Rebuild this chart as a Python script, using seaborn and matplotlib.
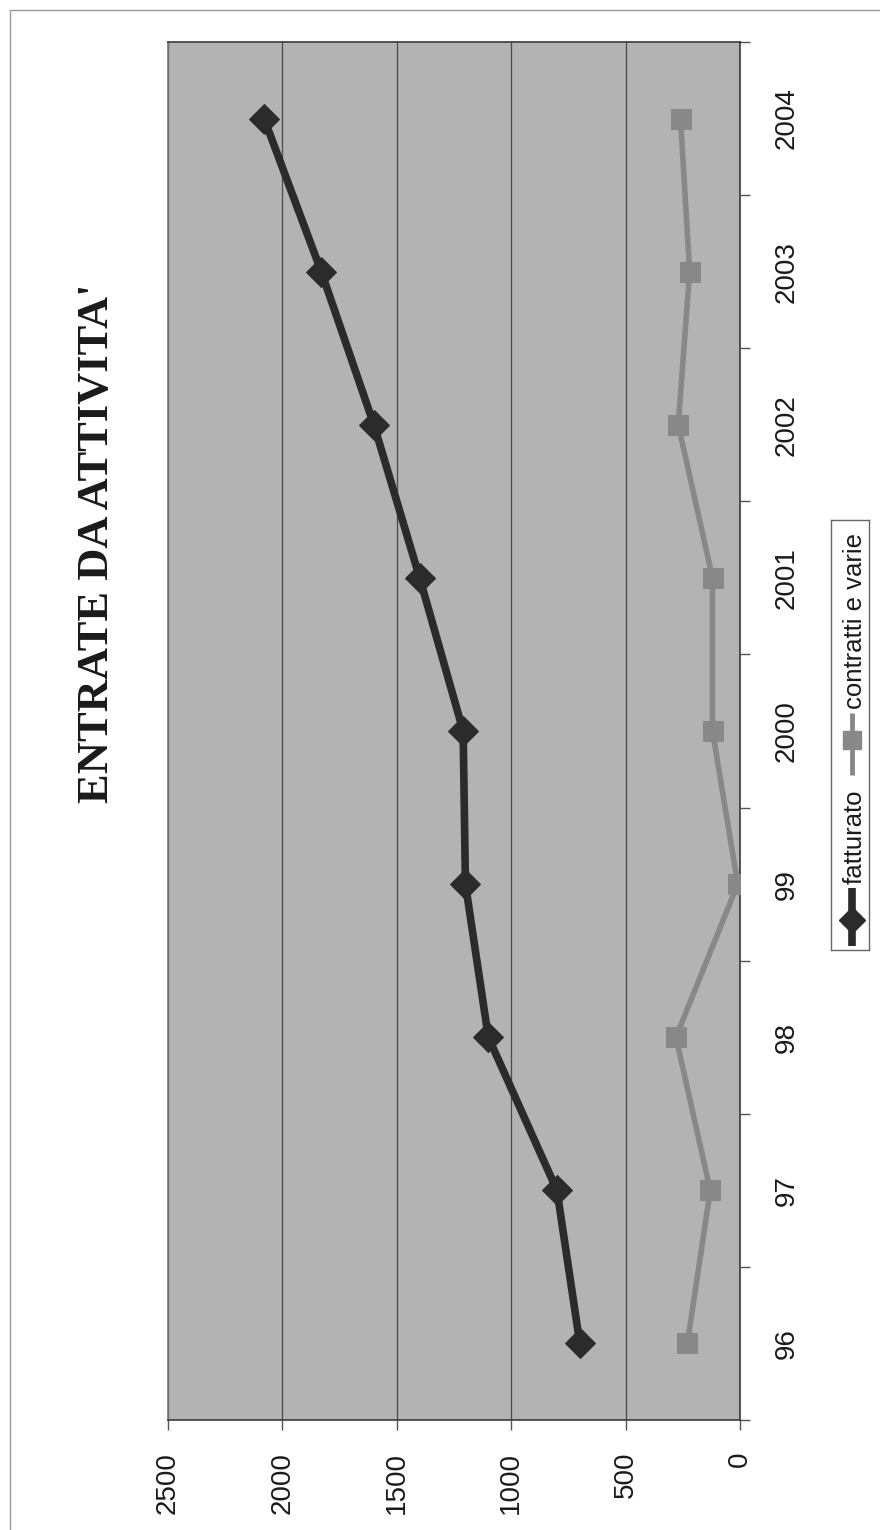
import matplotlib
matplotlib.use("Agg")
import matplotlib.pyplot as plt
import seaborn as sns
import pandas as pd
from matplotlib.lines import Line2D

# data
years = ["96", "97", "98", "99", "2000", "2001", "2002", "2003", "2004"]
fatturato = [700, 800, 1100, 1200, 1210, 1400, 1600, 1830, 2080]
contratti = [230, 130, 280, 10, 120, 120, 270, 220, 260]
value_ticks = [0, 500, 1000, 1500, 2000, 2500]
title = "ENTRATE DA ATTIVITA'"
series_names = ["fatturato", "contratti e varie"]

DARK = "#2b2b2b"
GREY = "#888888"
BG = "#b3b3b3"
SERIF = ["Liberation Serif", "DejaVu Serif"]
SANS = ["Liberation Sans", "DejaVu Sans"]

sns.set_theme(style="white")
plt.rcParams["font.family"] = SANS

df = pd.DataFrame({"pos": range(len(years)), "year": years,
                   "fatturato": fatturato, "contratti": contratti})

W, H = 880, 1530
fig = plt.figure(figsize=(W / 100, H / 100), dpi=100)
ax = fig.add_axes([168 / W, 1 - 1420 / H, (740 - 168) / W, (1420 - 42) / H])
ax.set_facecolor(BG)

sns.lineplot(data=df, x="fatturato", y="pos", orient="y", sort=False, ax=ax,
             color=DARK, linewidth=5.5, marker="D", markersize=15,
             markeredgecolor=DARK, zorder=4)
sns.lineplot(data=df, x="contratti", y="pos", orient="y", sort=False, ax=ax,
             color=GREY, linewidth=4, marker="s", markersize=14,
             markeredgecolor=GREY, zorder=3)

ax.set_xlim(2500, 0)
ax.set_ylim(-0.5, len(years) - 0.5)
ax.set_xlabel("")
ax.set_ylabel("")

# value axis (bottom), labels rotated like the scanned page
ax.set_xticks(value_ticks)
ax.set_xticklabels([str(v) for v in value_ticks], rotation=90, fontsize=20,
                   color="#1a1a1a")
ax.tick_params(axis="x", direction="out", length=7, width=1, color="#555555",
               pad=16, bottom=True)
ax.grid(axis="x", color="#4a4a4a", linewidth=0.9)
ax.grid(axis="y", visible=False)
ax.set_axisbelow(True)

# category axis on the right
ax.yaxis.tick_right()
ax.set_yticks(range(len(years)))
ax.set_yticklabels(years, rotation=90, va="center", fontsize=20, color="#1a1a1a")
ax.set_yticks([i + 0.5 for i in range(-1, len(years))], minor=True)
ax.tick_params(axis="y", which="major", length=0, pad=24)
ax.tick_params(axis="y", which="minor", direction="out", length=7, width=1,
               color="#555555", right=True, left=False)

for side, sp in ax.spines.items():
    sp.set_visible(True)
    sp.set_color("#3a3a3a")
    sp.set_linewidth(1.2)
ax.spines["left"].set_color("#777777")

# title on the left, rotated
fig.text(97 / W, 1 - 543 / H, title, rotation=90, ha="center", va="center",
         fontsize=32, fontweight="bold", family=SERIF, color="#1a1a1a")

# legend, drawn rotated inside a small axes
lx0, lx1, ly0, ly1 = 831, 869, 520, 950
lax = fig.add_axes([lx0 / W, 1 - ly1 / H, (lx1 - lx0) / W, (ly1 - ly0) / H])
lax.set_xlim(0, 1)
lax.set_ylim(ly1, ly0)
lax.set_xticks([])
lax.set_yticks([])
lax.set_facecolor("white")
for sp in lax.spines.values():
    sp.set_color("#666666")
    sp.set_linewidth(1)
lax.add_line(Line2D([0.55, 0.55], [946, 888], color=DARK, linewidth=5.5,
                    solid_capstyle="butt"))
lax.plot([0.55], [920], marker="D", markersize=13, color=DARK)
lax.text(0.62, 884, series_names[0], rotation=90, ha="center", va="bottom",
         fontsize=18.5, color="#1a1a1a")
lax.add_line(Line2D([0.55, 0.55], [775, 713], color=GREY, linewidth=3.5,
                    solid_capstyle="butt"))
lax.plot([0.55], [740], marker="s", markersize=13, color=GREY)
lax.text(0.62, 709, series_names[1], rotation=90, ha="center", va="bottom",
         fontsize=18.5, color="#1a1a1a")

# faint page frame
fig.add_artist(plt.Line2D([10 / W, 10 / W], [0, 1 - 10 / H], color="#9a9a9a", lw=1))
fig.add_artist(plt.Line2D([10 / W, 1], [1 - 10 / H, 1 - 10 / H], color="#9a9a9a", lw=1))

fig.savefig("out.png", dpi=100)
